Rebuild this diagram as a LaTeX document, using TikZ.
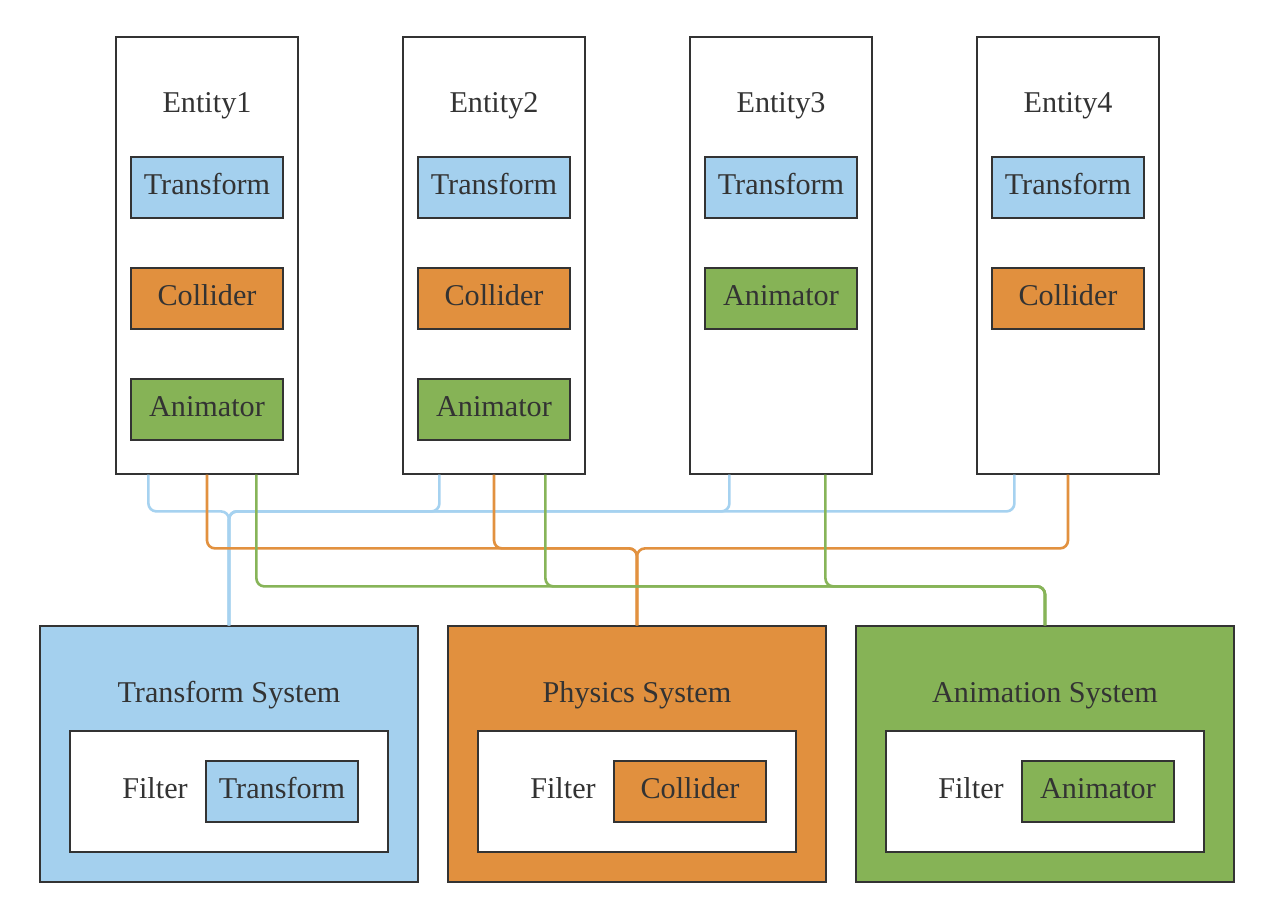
\documentclass[tikz,border=0pt]{standalone}
\usepackage{fontspec}
\setmainfont{Liberation Serif}
\usetikzlibrary{calc}
\definecolor{tblue}{HTML}{A4D0EE}
\definecolor{torange}{HTML}{E1903E}
\definecolor{tgreen}{HTML}{86B356}
\definecolor{ltblue}{HTML}{A6D2F0}
\definecolor{ltorange}{HTML}{E2913F}
\definecolor{ltgreen}{HTML}{87B458}
\definecolor{txt}{HTML}{333333}
\definecolor{bord}{HTML}{333333}
\tikzset{
  lbl/.style={text=txt, font=\fontsize{30.2}{36}\selectfont, inner sep=0pt},
  entbox/.style={draw=bord, line width=1.2pt, fill=white, minimum width=182pt, minimum height=437pt, inner sep=0pt},
  comp/.style={draw=bord, line width=1.2pt, minimum width=152pt, minimum height=61pt, inner sep=0pt, text=txt, font=\fontsize{30.2}{36}\selectfont, text height=20pt, text depth=6pt},
  sysbox/.style={draw=bord, line width=1.2pt, minimum width=378pt, minimum height=256pt, inner sep=0pt},
  innerbox/.style={draw=bord, line width=1.2pt, fill=white, minimum width=318pt, minimum height=121pt, inner sep=0pt},
  conn/.style={line width=2.6pt, rounded corners=8pt},
}
\begin{document}
\begin{tikzpicture}[x=1pt,y=-1pt]
\useasboundingbox (0,0) rectangle (1280,921);
\fill[white] (0,0) rectangle (1280,921);

% entities
\foreach \i/\cx in {1/207,2/494,3/781,4/1068}{
  \node[entbox] (e\i) at (\cx,255.5) {};
  \node[lbl] (e\i l) at (\cx,106) {Entity\i};
}
\node[comp, fill=tblue] (e1t) at (207,187.5) {Transform};
\node[comp, fill=torange] (e1c) at (207,298.5) {Collider};
\node[comp, fill=tgreen] (e1a) at (207,409.5) {Animator};
\node[comp, fill=tblue] (e2t) at (494,187.5) {Transform};
\node[comp, fill=torange] (e2c) at (494,298.5) {Collider};
\node[comp, fill=tgreen] (e2a) at (494,409.5) {Animator};
\node[comp, fill=tblue] (e3t) at (781,187.5) {Transform};
\node[comp, fill=tgreen] (e3a) at (781,298.5) {Animator};
\node[comp, fill=tblue] (e4t) at (1068,187.5) {Transform};
\node[comp, fill=torange] (e4c) at (1068,298.5) {Collider};

% systems
\node[sysbox, fill=tblue] (ts) at (229,754) {};
\node[lbl] (tsl) at (229,695.5) {Transform System};
\node[innerbox] (tsi) at (229,791.5) {};
\node[lbl] (tsf) at (155,788.5) {Filter};
\node[comp, fill=tblue] (tsc) at (282,791.5) {Transform};

\node[sysbox, fill=torange] (ps) at (637,754) {};
\node[lbl] (psl) at (637,695.5) {Physics System};
\node[innerbox] (psi) at (637,791.5) {};
\node[lbl] (psf) at (563,788.5) {Filter};
\node[comp, fill=torange] (psc) at (690,791.5) {Collider};

\node[sysbox, fill=tgreen] (as) at (1045,754) {};
\node[lbl] (asl) at (1045,695.5) {Animation System};
\node[innerbox] (asi) at (1045,791.5) {};
\node[lbl] (asf) at (971,788.5) {Filter};
\node[comp, fill=tgreen] (asc) at (1098,791.5) {Animator};

% connectors: blue
\foreach \e/\dx in {e1/33,e2/37,e3/40,e4/38}{
  \draw[conn, ltblue] ($(\e.south west)+(\dx,0)$) |- ($(ts.north)+(0,-114)$) -- (ts.north);
}
% orange
\foreach \e in {e1,e2,e4}{
  \draw[conn, ltorange] (\e.south) |- ($(ps.north)+(0,-77)$) -- (ps.north);
}
% green
\foreach \e/\dx in {e1/141,e2/143,e3/136}{
  \draw[conn, ltgreen] ($(\e.south west)+(\dx,0)$) |- ($(as.north)+(0,-39)$) -- (as.north);
}
\end{tikzpicture}
\end{document}
